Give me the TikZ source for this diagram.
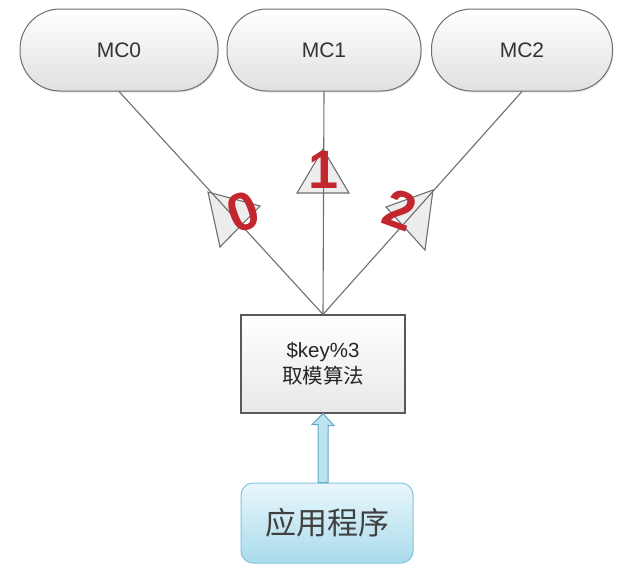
\documentclass[tikz,border=0pt]{standalone}
\usepackage{fontspec}
\setmainfont{Liberation Sans}
\newfontfamily\cjk{Noto Sans CJK SC}
\usepackage{tikz}
\usetikzlibrary{calc, shadows}
\definecolor{linegray}{HTML}{6E6E6E}
\definecolor{numred}{HTML}{C1272D}
\definecolor{appedge}{HTML}{86C3D9}
\definecolor{apptop}{HTML}{E9F7FC}
\definecolor{appbottom}{HTML}{A9DBEB}
\definecolor{arrowfill}{HTML}{BBE4F0}
\definecolor{arrowedge}{HTML}{5FA9C2}

\begin{document}
\begin{tikzpicture}[x=1pt, y=-1pt,
  mcbox/.style={draw=linegray, line width=1pt, rounded corners=40pt, minimum height=82pt,
    top color=white, bottom color=black!12, text=black!80, font=\fontsize{21}{23}\selectfont,
    drop shadow={opacity=0.18, shadow xshift=1pt, shadow yshift=-1.5pt}},
  link/.style={draw=linegray, line width=1.1pt},
  tri/.style={draw=linegray, line width=1.1pt, fill=black!7, line join=miter},
  num/.style={text=numred, inner sep=0pt, font=\fontsize{54}{54}\selectfont\bfseries}]
  \useasboundingbox (0,0) rectangle (634,571);
  \node[mcbox, minimum width=198pt] (mc0) at (119,50) {MC0};
  \node[mcbox, minimum width=194pt] (mc1) at (324,50) {MC1};
  \node[mcbox, minimum width=181pt] (mc2) at (522,50) {MC2};
  \node[draw=black!65, line width=1.2pt, minimum width=164pt, minimum height=98pt,
    top color=white, bottom color=black!9, text=black!85, align=center,
    font=\fontsize{20.5}{26}\selectfont] (alg) at (323,364) {\$key\%3\\{\cjk 取模算法}};
  \node[draw=appedge, line width=1pt, rounded corners=12pt, minimum width=172pt, minimum height=80pt,
    top color=apptop, bottom color=appbottom, text=black!75,
    font=\fontsize{31}{33}\selectfont] (app) at (327,523) {\cjk 应用程序};
  \filldraw[tri] (208,192) -- (220,247) -- (260,206) -- cycle;
  \filldraw[tri] (323,149) -- (297,193) -- (349,193) -- cycle;
  \filldraw[tri] (433,190) -- (425,250) -- (386,207) -- cycle;
  \draw[link] (alg.north) -- (mc0.south);
  \draw[link] (alg.north) -- (mc1.south);
  \draw[link] (alg.north) -- (mc2.south);
  \node[num, rotate=20] (n0) at (243,212) {0};
  \node[num] (n1) at (324,170) {1};
  \node[num, rotate=-20] (n2) at (400,210) {2};
  \filldraw[draw=arrowedge, fill=arrowfill, line width=1pt, line join=miter]
    (alg.south) -- ++(11,12) -- ++(-6,0) -- ($(alg.south |- app.north)+(5,0)$)
    -- ($(alg.south |- app.north)+(-5,0)$) -- ++(0,-58) -- ++(-6,0) -- cycle;
\end{tikzpicture}
\end{document}
